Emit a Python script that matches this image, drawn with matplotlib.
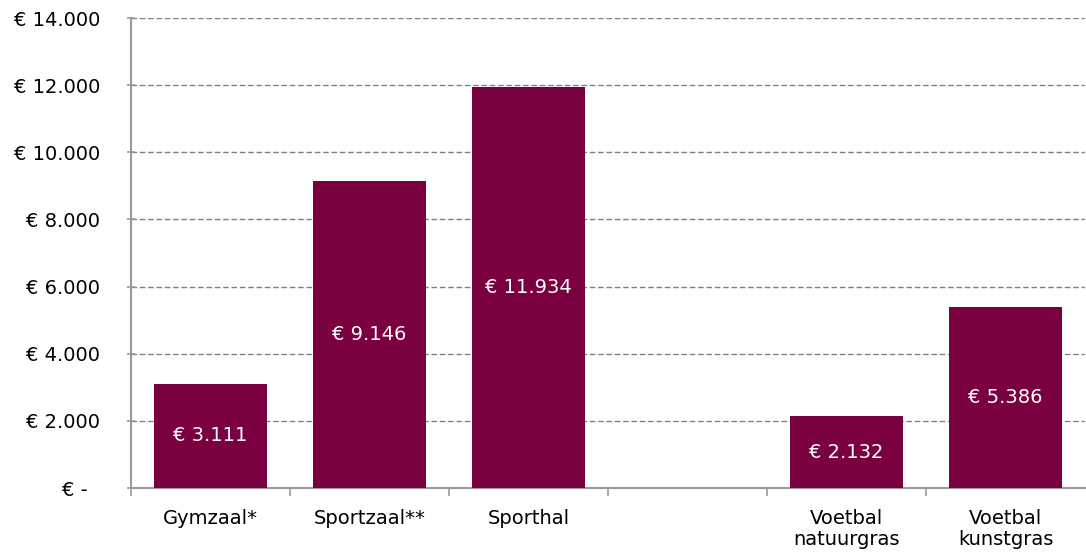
import matplotlib.pyplot as plt
import numpy as np

categories = ["Gymzaal*", "Sportzaal**", "Sporthal", "", "Voetbal\nnatuurgras", "Voetbal\nkunstgras"]
values = [3111, 9146, 11934, None, 2132, 5386]
y_ticks = [0, 2000, 4000, 6000, 8000, 10000, 12000, 14000]


def euro(v):
    if v == 0:
        return "€ -  "
    return "€ " + f"{v:,.0f}".replace(",", ".")


plt.rcParams['font.family'] = ['DejaVu Sans']
fig = plt.figure(figsize=(10.86, 5.53), dpi=100)
ax = fig.add_axes([131 / 1086, 65 / 553, 954 / 1086, 470 / 553])

bar_color = "#7B003F"
fs = 14
pos = np.arange(len(categories))
for x, v in zip(pos, values):
    if v is None:
        continue
    ax.bar(x, v, width=0.71, color=bar_color, zorder=3)
    ax.text(x, v / 2, euro(v), ha="center", va="center", color="white", fontsize=fs, zorder=4)

ax.set_xlim(-0.5, len(categories) - 0.5)
ax.set_ylim(0, 14000)
ax.set_yticks(y_ticks)
ax.set_yticklabels([euro(v) for v in y_ticks], fontsize=fs)
ax.yaxis.grid(True, color="#808080", linestyle=(0, (4, 2)), linewidth=1)
ax.set_axisbelow(True)

ax.set_xticks(pos)
ax.set_xticklabels(categories, fontsize=fs, linespacing=1.15)
ax.tick_params(axis="x", which="major", length=0, pad=15)
ax.set_xticks(np.arange(-0.5, len(categories) - 0.5, 1.0), minor=True)
ax.tick_params(axis="x", which="minor", length=6, color="#999999", width=1.2, direction="out")
ax.tick_params(axis="y", length=6, color="#999999", width=1.2, direction="inout", pad=19)

for s in ["top", "right"]:
    ax.spines[s].set_visible(False)
for s in ["left", "bottom"]:
    ax.spines[s].set_color("#999999")
    ax.spines[s].set_linewidth(1.5)

fig.savefig("out.png", dpi=100)
